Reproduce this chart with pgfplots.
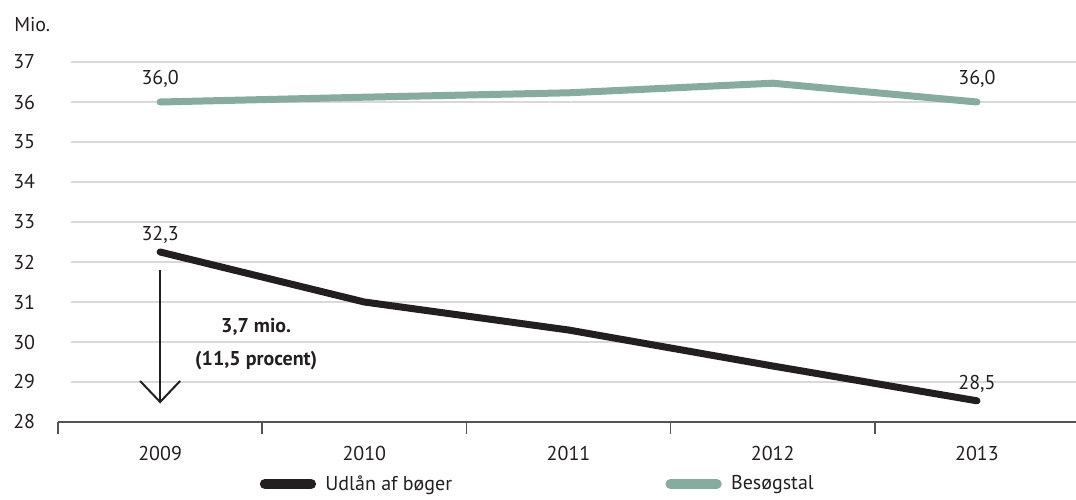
\documentclass[border=0pt]{standalone}
\usepackage{pgfplots}
\pgfplotsset{compat=1.18}
\usepackage{fontspec}
\setmainfont{PT Sans}
\definecolor{gridc}{HTML}{D9D9D9}
\definecolor{axc}{HTML}{555555}
\definecolor{blk}{HTML}{231F20}
\definecolor{grn}{HTML}{87AB9E}
\newcommand{\fs}{\fontsize{15}{17}\selectfont}
\begin{document}
\begin{tikzpicture}
\path[use as bounding box] (0pt,0pt) rectangle (807pt,375pt);
\node[anchor=west,inner sep=0pt,text=blk,font=\fs] at (10.5pt,356.25pt) {Mio.};
\begin{axis}[
  at={(43.5pt,58.5pt)}, anchor=south west,
  scale only axis, width=763.5pt, height=270pt,
  xmin=-0.5, xmax=4.485, ymin=28, ymax=37,
  axis x line*=bottom, axis y line*=left,
  x axis line style={axc, line width=1.5pt, -},
  y axis line style={draw=none},
  xtick={0,1,2,3,4},
  xticklabels={2009,2010,2011,2012,2013},
  major tick length=0pt,
  extra x ticks={-0.5,0.5,1.5,2.5,3.5},
  extra x tick labels={},
  extra x tick style={tick align=outside, major tick length=9pt,
     tick style={axc, line width=1.2pt}},
  ytick={28,...,37},
  yticklabels={28,29,30,31,32,33,34,35,36,37},
  ytick style={draw=none},
  xticklabel style={anchor=north, inner sep=0pt, yshift=-18pt, font=\fs, text=blk},
  yticklabel style={anchor=east, inner sep=0pt, xshift=-17pt, font=\fs, text=blk},
  clip=false,
  legend style={at={(axis description cs:0.198,-0.172)}, anchor=west, draw=none, fill=none,
     font=\fs, text=blk, inner sep=0pt, legend cell align=left,
     /tikz/every odd column/.append style={column sep=5pt},
     /tikz/every even column/.append style={column sep=158pt}},
  legend columns=2,
  legend image code/.code={\draw[#1, line width=7.5pt, line cap=round] (0.13cm,0cm) -- (1.35cm,0cm);},
]
\pgfplotsinvokeforeach{29,...,37}{
  \draw[gridc, line width=1.2pt] (axis cs:-0.436,#1) -- (axis cs:4.485,#1);
}
\addplot[blk, line width=5.25pt, line cap=round, line join=round] coordinates {
  (0,32.25) (1,31.0) (2,30.3) (3,29.4) (4,28.53)};
\addlegendentry{Udlån af bøger}
\addplot[grn, line width=5.25pt, line cap=round, line join=round] coordinates {
  (0,36.0) (1,36.12) (2,36.23) (3,36.47) (4,36.0)};
\addlegendentry{Besøgstal}
\node[font=\fs, text=blk, anchor=south, inner sep=0pt] at ([yshift=10.5pt]axis cs:0,36.0) {36,0};
\node[font=\fs, text=blk, anchor=south, inner sep=0pt] at ([yshift=10.5pt]axis cs:4,36.0) {36,0};
\node[font=\fs, text=blk, anchor=south, inner sep=0pt] at ([yshift=6pt]axis cs:0,32.25) {32,3};
\node[font=\fs, text=blk, anchor=south, inner sep=0pt] at ([yshift=6pt]axis cs:4,28.53) {28,5};
\draw[blk, line width=1.5pt] (axis cs:0,31.8) -- (axis cs:0,28.5);
\draw[blk, line width=1.5pt] (axis cs:0,28.5) ++(-15pt,15.75pt) -- (axis cs:0,28.5) -- ++(15pt,15.75pt);
\node[font=\fs\bfseries, text=blk] at (axis cs:0.47,30.375) {3,7 mio.};
\node[font=\fs\bfseries, text=blk] at (axis cs:0.47,29.525) {(11,5 procent)};
\end{axis}
\end{tikzpicture}
\end{document}
